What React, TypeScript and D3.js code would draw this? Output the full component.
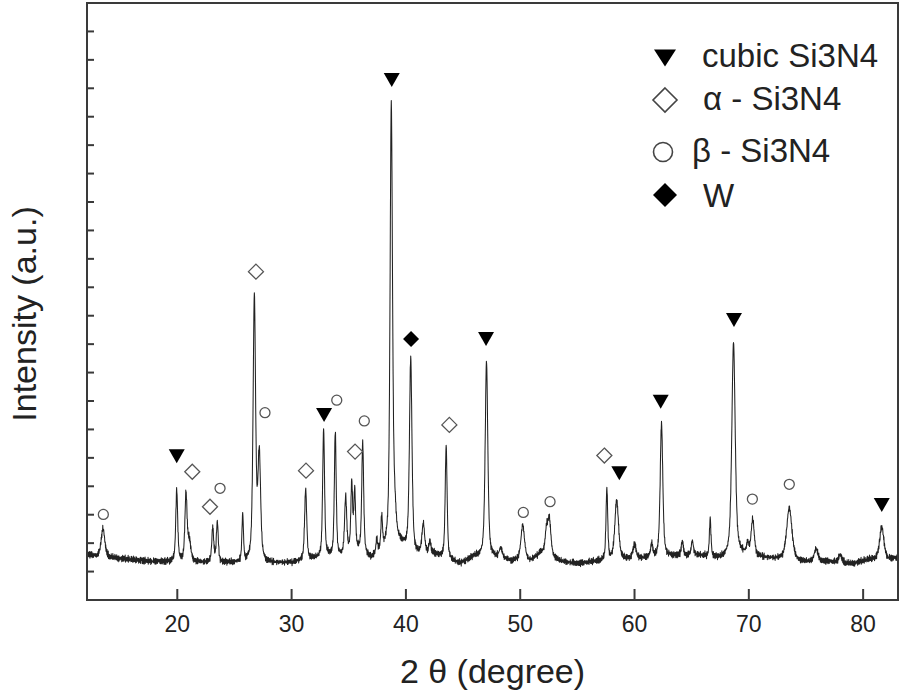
import React from "react";
import * as d3 from "d3";

const W = 900;
const H = 694;
const PL = 87, PR = 898, PT = 3, PB = 600;

const xDomain = [12.1, 83.05];
const yDomain = [0, 21];
const xTickValues = [20, 30, 40, 50, 60, 70, 80];
const yTickValues = [1, 2, 3, 4, 5, 6, 7, 8, 9, 10, 11, 12, 13, 14, 15, 16, 17, 18, 19, 20];

// XRD peaks: centre (2θ), height above background, FWHM
const peakCenters = [13.5, 19.95, 20.76, 21.05, 23.1, 23.5, 25.72, 26.74, 27.17, 31.23, 32.8, 33.82, 34.73, 35.26, 35.52, 36.22, 37.45, 37.88, 38.72, 39.0, 40.42, 41.52, 42.1, 43.52, 47.05, 48.3, 50.22, 52.3, 52.55, 57.58, 58.44, 60.0, 61.5, 62.36, 64.18, 65.06, 66.62, 68.66, 69.9, 70.34, 73.54, 75.88, 78.0, 81.63];
const peakHeights = [1.0, 2.5, 2.35, 0.7, 1.2, 1.4, 1.65, 9.3, 3.7, 2.5, 4.5, 4.4, 2.0, 2.4, 2.1, 3.9, 0.5, 1.15, 15.5, 1.0, 6.8, 1.05, 0.4, 3.95, 6.9, 0.35, 1.25, 0.8, 1.25, 2.5, 2.1, 0.5, 0.45, 4.7, 0.5, 0.5, 1.35, 7.5, 0.35, 1.25, 1.85, 0.45, 0.28, 1.15];
const peakWidths = [0.38, 0.2, 0.22, 0.32, 0.2, 0.2, 0.16, 0.26, 0.28, 0.22, 0.2, 0.19, 0.22, 0.18, 0.18, 0.2, 0.17, 0.17, 0.25, 0.32, 0.26, 0.28, 0.22, 0.2, 0.27, 0.32, 0.38, 0.28, 0.32, 0.18, 0.38, 0.32, 0.22, 0.27, 0.22, 0.22, 0.16, 0.35, 0.22, 0.32, 0.55, 0.38, 0.32, 0.44];

// background level
const baselineAngles = [12.1, 13, 14.5, 16, 18, 20, 22, 25, 27.8, 30, 31.8, 33.3, 34.3, 35, 35.9, 36.9, 37.5, 38.2, 39.5, 40.9, 42.5, 44.7, 46, 48, 49, 51, 51.8, 53.5, 55, 56.5, 59.3, 61, 63, 65.5, 67.5, 69.3, 71.5, 72.5, 74.8, 77, 79, 80.5, 82.3, 83.1];
const baselineLevels = [1.6, 1.52, 1.47, 1.42, 1.35, 1.35, 1.32, 1.3, 1.28, 1.3, 1.42, 1.5, 1.5, 1.62, 1.68, 1.42, 1.55, 1.72, 1.9, 1.55, 1.6, 1.27, 1.52, 1.47, 1.37, 1.37, 1.65, 1.35, 1.27, 1.35, 1.42, 1.47, 1.52, 1.57, 1.45, 1.6, 1.47, 1.42, 1.32, 1.35, 1.27, 1.42, 1.42, 1.48];

// hand-typed counting noise offsets
const noiseA = [0.3, -0.6, 0.9, -0.2, -0.8, 0.5, 0.1, -0.4, 0.7, -0.9, 0.2, 0.6, -0.3, -0.7, 0.8, 0.0, -0.5, 0.4, -0.1, 0.9, -0.8, 0.3, 0.5, -0.6, -0.2, 0.7, -0.4, 0.1, -0.9, 0.6, 0.2, -0.3, 0.8, -0.7, 0.4, -0.1, 0.0];
const noiseB = [-0.4, 0.7, 0.1, -0.8, 0.5, -0.2, 0.9, -0.6, 0.3, 0.0, -0.5, 0.8, -0.1, -0.9, 0.4, 0.6, -0.3, 0.2, -0.7, 0.5, 0.1, -0.4, 0.8, -0.6, 0.3, -0.2, 0.7, -0.8, 0.0];

// phase markers [2θ, intensity]
const cubicMarks = [[19.95, 5.06], [32.84, 6.51], [38.76, 18.29], [47.01, 9.18], [58.67, 4.46], [62.29, 6.97], [68.7, 9.85], [81.63, 3.34]];
const alphaMarks = [[21.31, 4.51], [22.86, 3.28], [26.88, 11.55], [31.26, 4.55], [35.55, 5.22], [43.8, 6.16], [57.36, 5.08]];
const betaMarks = [[13.53, 3.01], [23.74, 3.93], [27.67, 6.59], [33.95, 7.03], [36.36, 6.3], [50.27, 3.08], [52.61, 3.46], [70.31, 3.55], [73.54, 4.07]];
const wMarks = [[40.45, 9.18]];

const legendLabels = ["cubic Si3N4", "α - Si3N4", "β - Si3N4", "W"];

const FONT = "'Liberation Sans', Arial, sans-serif";

function buildCurve() {
  const base = d3.scaleLinear().domain(baselineAngles).range(baselineLevels);
  const eta = 0.55;
  const pts: [number, number][] = [];
  const step = 0.02;
  const n = Math.round((xDomain[1] - xDomain[0]) / step);
  for (let i = 0; i <= n; i++) {
    const x = xDomain[0] + i * step;
    let y = base(x);
    for (let k = 0; k < peakCenters.length; k++) {
      const d = (x - peakCenters[k]) / peakWidths[k];
      const d2 = d * d;
      y += peakHeights[k] * (eta / (1 + 4 * d2) + (1 - eta) * Math.exp(-4 * Math.LN2 * d2));
    }
    y += 0.09 * noiseA[i % noiseA.length] + 0.07 * noiseB[i % noiseB.length];
    pts.push([x, y]);
  }
  return pts;
}

const triPath = (w: number, h: number) => `M${-w / 2},${-h / 2}L${w / 2},${-h / 2}L0,${h / 2}Z`;
const diaPath = (s: number) => `M0,${-s}L${s},0L0,${s}L${-s},0Z`;

export default function App() {
  const x = d3.scaleLinear().domain(xDomain).range([PL, PR]);
  const y = d3.scaleLinear().domain(yDomain).range([PB, PT]);
  const curve = buildCurve();
  const line = d3.line<[number, number]>().x((d) => x(d[0])).y((d) => y(d[1]));

  const ink = "#222";
  const frame = "#3a3a3a";
  const legendX = 665;
  const legendY = [58, 100, 152, 195];
  const legendTextX = [702, 703, 692, 703];
  const legendBase = [67, 110, 162, 207];

  return (
    <svg width={W} height={H} style={{ position: "absolute", left: 0, top: 0, background: "#fff" }} fontFamily={FONT}>
      <defs>
        <clipPath id="plotclip">
          <rect x={PL} y={PT} width={PR - PL} height={PB - PT} />
        </clipPath>
      </defs>
      <rect x={0} y={0} width={W} height={H} fill="#fff" />
      <path d={line(curve as any) || ""} fill="none" stroke={ink} strokeWidth={1.05} clipPath="url(#plotclip)" strokeLinejoin="round" />

      {/* markers */}
      {cubicMarks.map((m, i) => (
        <path key={"c" + i} d={triPath(16, 14)} transform={`translate(${x(m[0])},${y(m[1])})`} fill="#000" />
      ))}
      {alphaMarks.map((m, i) => (
        <path key={"a" + i} d={diaPath(7.5)} transform={`translate(${x(m[0])},${y(m[1])})`} fill="#fff" stroke="#555" strokeWidth={1.3} />
      ))}
      {betaMarks.map((m, i) => (
        <circle key={"b" + i} cx={x(m[0])} cy={y(m[1])} r={5} fill="#fff" stroke="#555" strokeWidth={1.3} />
      ))}
      {wMarks.map((m, i) => (
        <path key={"w" + i} d={diaPath(8)} transform={`translate(${x(m[0])},${y(m[1])})`} fill="#000" />
      ))}

      {/* frame */}
      <rect x={PL} y={PT} width={PR - PL} height={PB - PT} fill="none" stroke={frame} strokeWidth={2} />
      {xTickValues.map((t) => (
        <g key={"xt" + t}>
          <line x1={x(t)} x2={x(t)} y1={PB} y2={PB - 11} stroke={frame} strokeWidth={2} />
          <text x={x(t)} y={632} textAnchor="middle" fontSize={23} fill={ink}>{t}</text>
        </g>
      ))}
      {yTickValues.map((t) => (
        <line key={"yt" + t} x1={PL} x2={PL + 7} y1={y(t)} y2={y(t)} stroke={frame} strokeWidth={2} />
      ))}
      <text x={(PL + PR) / 2} y={683} textAnchor="middle" fontSize={34} fill={ink}>2 θ (degree)</text>
      <text transform={`translate(36,314) rotate(-90)`} textAnchor="middle" fontSize={34} fill={ink}>Intensity (a.u.)</text>

      {/* legend */}
      <path d={triPath(22, 17)} transform={`translate(${legendX},${legendY[0]})`} fill="#000" />
      <path d={diaPath(12)} transform={`translate(${legendX},${legendY[1]})`} fill="#fff" stroke="#444" strokeWidth={1.6} />
      <circle cx={663} cy={legendY[2]} r={9.5} fill="#fff" stroke="#444" strokeWidth={1.6} />
      <path d={diaPath(12)} transform={`translate(${legendX},${legendY[3]})`} fill="#000" />
      {legendLabels.map((l, i) => (
        <text key={l} x={legendTextX[i]} y={legendBase[i]} fontSize={33} fill={ink}>{l}</text>
      ))}
    </svg>
  );
}
